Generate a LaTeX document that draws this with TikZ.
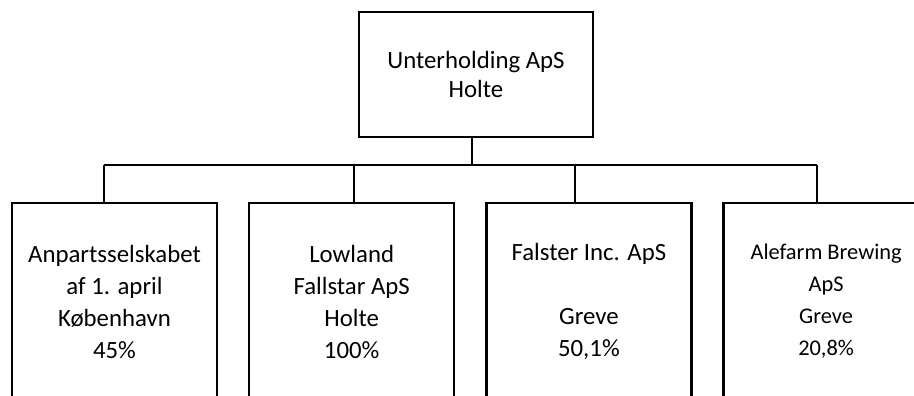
\documentclass[tikz,border=0pt]{standalone}
\usepackage{fontspec}
\setmainfont{Carlito}
\usepackage{tikz}
\usetikzlibrary{shapes.geometric, arrows}
\tikzstyle{topbox} = [rectangle, text centered, align=center, draw, line width=1.9pt, inner sep=0pt, minimum width=175.5pt, minimum height=93.75pt, font=\fontsize{18.6}{21.75}\selectfont]
\tikzstyle{childbox} = [rectangle, text centered, align=center, draw, line width=1.9pt, inner sep=0pt, minimum width=153.75pt, minimum height=147.75pt, font=\fontsize{18.6}{24}\selectfont]
\tikzstyle{link} = [line width=0.8pt]
\begin{document}
\begin{tikzpicture}[x=0.75pt, y=-0.75pt, node distance=177.9pt]
  \useasboundingbox (0,0) rectangle (914,396);
  \clip (0,0) rectangle (914,396);
  \node (top) [topbox] at (476,74.5) {Unterholding ApS\\Holte};
  \node (c1) [childbox] at (114.5,301.5) {Anpartsselskabet\\af 1. april\\København\\45\%};
  \node (c2) [childbox, right of=c1] {Lowland\\Fallstar ApS\\Holte\\100\%};
  \node (c3) [childbox, right of=c2] {Falster Inc. ApS\\\mbox{}\\Greve\\50,1\%};
  \node (c4) [childbox, right of=c3, font=\fontsize{16.8}{24}\selectfont] {Alefarm Brewing\\ApS\\Greve\\20,8\%};

  \coordinate (bus) at (472,165);
  \coordinate (j1) at (104,165);
  \coordinate (j2) at (354,165);
  \coordinate (j3) at (575,165);
  \coordinate (j4) at (817,165);

  \draw [link] (bus |- top.south) -- (bus);
  \draw [link] (j1) -- (j4);
  \draw [link] (j1) -- (j1 |- c1.north);
  \draw [link] (j2) -- (j2 |- c2.north);
  \draw [link] (j3) -- (j3 |- c3.north);
  \draw [link] (j4) -- (j4 |- c4.north);
\end{tikzpicture}
\end{document}
